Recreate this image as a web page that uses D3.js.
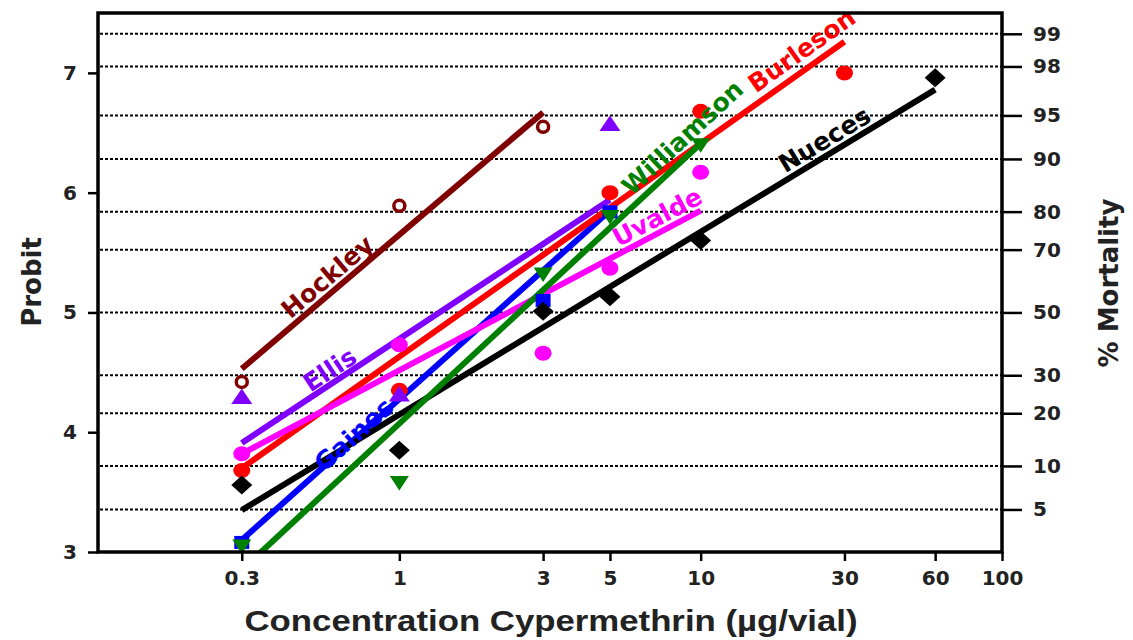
<!DOCTYPE html>
<html>
<head>
<meta charset="utf-8">
<script src="https://cdn.jsdelivr.net/npm/d3@7"></script>
<style>
  html,body{margin:0;padding:0;background:#fff;}
  svg{display:block;}
</style>
</head>
<body>
<svg id="chart" width="1133" height="640"></svg>
<script>
// ---------- data ----------
const xTicks = [0.3, 1, 3, 5, 10, 30, 60, 100];
const yTicks = [3, 4, 5, 6, 7];
const mortalityTicks = [5, 10, 20, 30, 50, 70, 80, 90, 95, 98, 99];

const hockleyPts = [[0.3, 4.42], [1, 5.89], [3, 6.55]];
const hockleyFit = [[0.3, 4.53], [3, 6.67]];

const ellisPts = [[0.3, 4.29], [1, 4.31], [5, 6.57]];
const ellisFit = [[0.3, 3.91], [5, 5.94]];

const burlesonPts = [[0.3, 3.68], [1, 4.35], [5, 6.0], [10, 6.68], [30, 7.0]];
const burlesonFit = [[0.3, 3.70], [30, 7.26]];

const uvaldePts = [[0.3, 3.82], [1, 4.73], [3, 4.66], [5, 5.37], [10, 6.17]];
const uvaldeFit = [[0.3, 3.82], [10, 5.85]];

const nuecesPts = [[0.3, 3.56], [1, 3.85], [3, 5.01], [5, 5.13], [10, 5.6], [60, 6.96]];
const nuecesFit = [[0.3, 3.35], [60, 6.86]];

const gainesPts = [[0.3, 3.08], [3, 5.1], [5, 5.84]];
const gainesFit = [[0.3, 3.10], [5, 5.85]];

const williamsonPts = [[0.3, 3.05], [1, 3.58], [3, 5.32], [5, 5.8], [10, 6.4]];
const williamsonFit = [[0.3, 2.85], [10, 6.41]];

// series: name, colour, marker, points, fit, label anchor (concentration along fit), label offset
const series = [
  {name: "Gaines",     color: "#0000ff", marker: "square",  pts: gainesPts,     fit: gainesFit,     at: 0.72, off: 5},
  {name: "Burleson",   color: "#ff0000", marker: "circle",  pts: burlesonPts,   fit: burlesonFit,   at: 23.4, off: -9},
  {name: "Ellis",      color: "#8000ff", marker: "triUp",   pts: ellisPts,      fit: ellisFit,      at: 0.62, off: -4},
  {name: "Uvalde",     color: "#ff00ff", marker: "circle",  pts: uvaldePts,     fit: uvaldeFit,     at: 7.57, off: -6},
  {name: "Nueces",     color: "#000000", marker: "diamond", pts: nuecesPts,     fit: nuecesFit,     at: 27.3, off: -6},
  {name: "Williamson", color: "#008000", marker: "triDown", pts: williamsonPts, fit: williamsonFit, at: 9.5,  off: -8},
  {name: "Hockley",    color: "#800000", marker: "ring",    pts: hockleyPts,    fit: hockleyFit,    at: 0.62, off: -6}
];

// ---------- helpers ----------
// inverse standard normal CDF (Acklam)
function normInv(p){
  const a=[-3.969683028665376e+01,2.209460984245205e+02,-2.759285104469687e+02,1.383577518672690e+02,-3.066479806614716e+01,2.506628277459239e+00];
  const b=[-5.447609879822406e+01,1.615858368580409e+02,-1.556989798598866e+02,6.680131188771972e+01,-1.328068155288572e+01];
  const c=[-7.784894002430293e-03,-3.223964580411365e-01,-2.400758277161838e+00,-2.549671009251693e+00,4.374664141464968e+00,2.938163982698783e+00];
  const d=[7.784695709041462e-03,3.224671290700398e-01,2.445134137142996e+00,3.754408661907416e+00];
  const pl=0.02425, ph=1-pl; let q,r;
  if(p<pl){q=Math.sqrt(-2*Math.log(p));return (((((c[0]*q+c[1])*q+c[2])*q+c[3])*q+c[4])*q+c[5])/((((d[0]*q+d[1])*q+d[2])*q+d[3])*q+1);}
  if(p<=ph){q=p-0.5;r=q*q;return (((((a[0]*r+a[1])*r+a[2])*r+a[3])*r+a[4])*r+a[5])*q/(((((b[0]*r+b[1])*r+b[2])*r+b[3])*r+b[4])*r+1);}
  q=Math.sqrt(-2*Math.log(1-p));return -(((((c[0]*q+c[1])*q+c[2])*q+c[3])*q+c[4])*q+c[5])/((((d[0]*q+d[1])*q+d[2])*q+d[3])*q+1);
}
const probit = pct => 5 + normInv(pct/100);

// ---------- layout ----------
const svg = d3.select("#chart");
const L = 98, R = 1002, T = 13, B = 552;
const x = d3.scaleLog().domain([0.1, 100]).range([L, R]);
const y = d3.scaleLinear().domain([3, 7.5]).range([B, T]);

svg.append("defs").append("clipPath").attr("id","clip")
  .append("rect").attr("x",L).attr("y",T).attr("width",R-L).attr("height",B-T);

// gridlines (mortality levels)
svg.append("g").selectAll("line").data(mortalityTicks).join("line")
  .attr("x1", L+2).attr("x2", R)
  .attr("y1", d => y(probit(d))).attr("y2", d => y(probit(d)))
  .attr("stroke", "#000").attr("stroke-width", 2)
  .attr("stroke-dasharray", "3,2");

// fit lines
const lineGen = d3.line().x(d => x(d[0])).y(d => y(d[1]));
const plot = svg.append("g").attr("clip-path","url(#clip)");
series.forEach(s => {
  plot.append("path").datum(s.fit).attr("d", lineGen)
    .attr("fill","none").attr("stroke", s.color).attr("stroke-width", 6)
    .attr("stroke-linecap","butt");
});

// markers
const markerPaths = {
  triUp: "M0,-9L10.5,6.5L-10.5,6.5Z",
  triDown: "M-9.5,-6.5L9.5,-6.5L0,8Z",
  diamond: "M0,-9.5L10.5,0L0,9.5L-10.5,0Z",
  square: "M-7.5,-6.5H7.5V6.5H-7.5Z"
};
const mg = svg.append("g");
series.forEach(s => {
  const g = mg.append("g");
  s.pts.forEach(p => {
    const cx = x(p[0]), cy = y(p[1]);
    if (s.marker === "circle") {
      g.append("ellipse").attr("cx",cx).attr("cy",cy).attr("rx",8.5).attr("ry",7.5).attr("fill",s.color);
    } else if (s.marker === "ring") {
      g.append("ellipse").attr("cx",cx).attr("cy",cy).attr("rx",5.5).attr("ry",5.5)
        .attr("fill","#fff").attr("stroke",s.color).attr("stroke-width",3.5);
    } else {
      g.append("path").attr("d", markerPaths[s.marker])
        .attr("transform",`translate(${cx},${cy})`).attr("fill", s.color);
    }
  });
});

// series labels along the fit lines
series.forEach(s => {
  const [p1, p2] = s.fit;
  const ang = Math.atan2(y(p2[1]) - y(p1[1]), x(p2[0]) - x(p1[0])) * 180 / Math.PI;
  const t = (Math.log10(s.at) - Math.log10(p1[0])) / (Math.log10(p2[0]) - Math.log10(p1[0]));
  const pv = p1[1] + t * (p2[1] - p1[1]);
  svg.append("text")
    .attr("transform", `translate(${x(s.at)},${y(pv)}) rotate(${ang}) translate(0,${s.off})`)
    .attr("text-anchor","middle")
    .attr("font-family","DejaVu Sans, sans-serif").attr("font-weight","bold")
    .attr("font-size", 25).attr("fill", s.color)
    .text(s.name);
});

// axes
const fmt = d => String(d);
const gx = svg.append("g").attr("transform",`translate(0,${B})`)
  .call(d3.axisBottom(x).tickValues(xTicks).tickFormat(fmt).tickSize(9).tickPadding(10));
const gy = svg.append("g").attr("transform",`translate(${L},0)`)
  .call(d3.axisLeft(y).tickValues(yTicks).tickFormat(fmt).tickSize(10).tickPadding(11));
const gr = svg.append("g").attr("transform",`translate(${R},0)`)
  .call(d3.axisRight(y).tickValues(mortalityTicks.map(probit)).tickFormat((d,i) => mortalityTicks[i]).tickSize(20).tickPadding(11));

[gx, gy, gr].forEach(g => {
  g.select(".domain").remove();
  g.selectAll(".tick line").attr("stroke","#000").attr("stroke-width",2.5);
  g.selectAll(".tick text").attr("font-family","DejaVu Sans, sans-serif")
    .attr("font-weight","bold").attr("font-size",20).attr("fill","#222");
});

// frame
svg.append("rect").attr("x",L).attr("y",T).attr("width",R-L).attr("height",B-T)
  .attr("fill","none").attr("stroke","#000").attr("stroke-width",3.5);

// axis titles
svg.append("text").attr("x", 551).attr("y", 631).attr("text-anchor","middle")
  .attr("font-family","Liberation Sans, Arial, sans-serif").attr("font-weight","bold")
  .attr("font-size", 30).attr("fill","#222")
  .attr("textLength", 613).attr("lengthAdjust","spacingAndGlyphs")
  .text("Concentration Cypermethrin (µg/vial)");

svg.append("text").attr("transform","translate(41,282) rotate(-90)").attr("text-anchor","middle")
  .attr("font-family","DejaVu Sans, sans-serif").attr("font-weight","bold")
  .attr("font-size", 26).attr("fill","#222").text("Probit");

svg.append("text").attr("transform","translate(1118,283) rotate(-90)").attr("text-anchor","middle")
  .attr("font-family","DejaVu Sans, sans-serif").attr("font-weight","bold")
  .attr("font-size", 26).attr("fill","#222").text("% Mortality");
</script>
</body>
</html>
